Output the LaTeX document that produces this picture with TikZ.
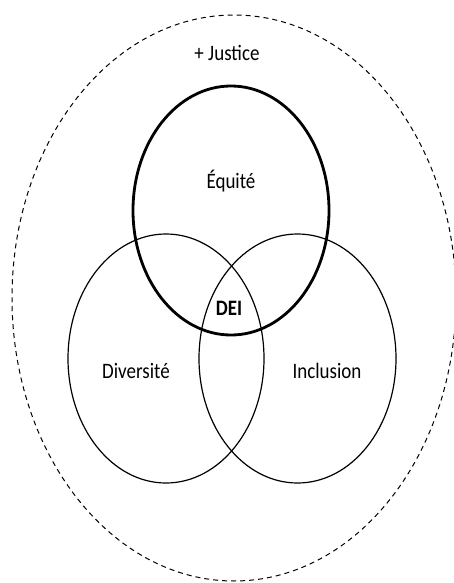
\documentclass[tikz,border=0pt]{standalone}
\usepackage{fontspec}
\usepackage{graphicx}
\setmainfont{Carlito}
% labels are set slightly taller than wide
\newcommand{\tall}[1]{\scalebox{1}[1.16]{#1}}
\begin{document}
\begin{tikzpicture}[x=1pt,y=-1pt,
  label/.style={anchor=base,inner sep=0pt,font=\fontsize{19}{22}\selectfont},
  set/.style={draw=black,line width=1.2pt},
  focus/.style={draw=black,line width=2.8pt},
  outer/.style={draw=black,line width=1pt,dash pattern=on 5pt off 4pt}]
\useasboundingbox (0,0) rectangle (454,583);
\clip (0,0) rectangle (454,583);
% dashed outer boundary
\draw[outer] (234,298) ellipse [x radius=222,y radius=283];
% lower two sets
\draw[set] (166,358.5) ellipse [x radius=98,y radius=124.5];
\draw[set] (297.5,358.5) ellipse [x radius=98.5,y radius=124.5];
% upper set, drawn heavier
\draw[focus] (231,210.5) ellipse [x radius=98,y radius=124.5];
% labels
\node[label] (justice) at (227,61) {\tall{+ Justice}};
\node[label] (equite) at (231,188) {\tall{Équité}};
\node[label] (diversite) at (136,378) {\tall{Diversité}};
\node[label] (inclusion) at (327,378) {\tall{Inclusion}};
\node[label,font=\fontsize{19}{22}\selectfont\bfseries] (dei) at (229,315) {\tall{DEI}};
\end{tikzpicture}
\end{document}
